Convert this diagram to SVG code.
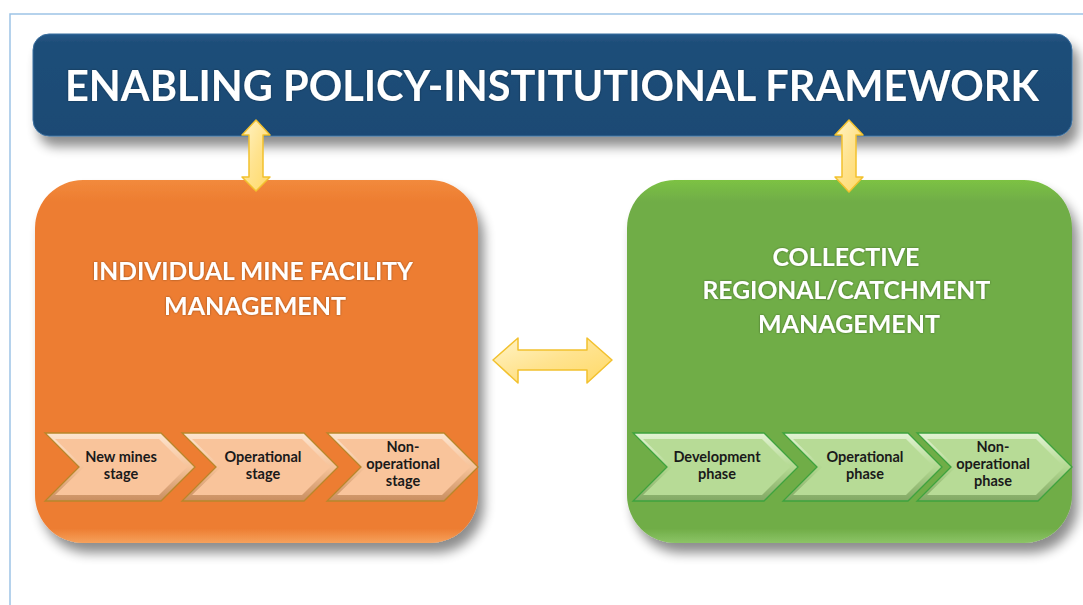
<svg xmlns="http://www.w3.org/2000/svg" width="1083" height="605" viewBox="0 0 1083 605">
  <defs>
    <style>
      .frame { stroke: #9dc3e6; stroke-width: 1.5; fill: none; }
      .banner-text { font-family: Lato, "Open Sans", sans-serif; font-weight: 700; font-size: 42px; fill: #ffffff; }
      .box-title { font-family: Lato, "Open Sans", sans-serif; font-weight: 700; font-size: 25px; fill: #ffffff; text-anchor: middle; }
      .step-text { font-family: Lato, "Open Sans", sans-serif; font-weight: 700; font-size: 14.5px; fill: #1a1a1a; text-anchor: middle; }
      .arrow { fill: url(#arrowFill); stroke: #f2c12e; stroke-width: 1.5; stroke-linejoin: round; }
      .o-outer { fill: url(#orangeBevel); stroke: #b8862b; stroke-width: 1.3; }
      .o-inner { fill: #f9c49b; }
      .g-outer { fill: url(#greenBevel); stroke: #3ea33e; stroke-width: 1.3; }
      .g-inner { fill: #b7db96; }
    </style>
    <filter id="shadow" x="-10%" y="-10%" width="125%" height="140%">
      <feGaussianBlur in="SourceAlpha" stdDeviation="6"/>
      <feOffset dx="6" dy="10" result="b"/>
      <feComponentTransfer><feFuncA type="linear" slope="0.45"/></feComponentTransfer>
      <feMerge><feMergeNode/><feMergeNode in="SourceGraphic"/></feMerge>
    </filter>
    <filter id="glow" x="-5%" y="-20%" width="110%" height="140%">
      <feGaussianBlur in="SourceAlpha" stdDeviation="1.2"/>
      <feComponentTransfer><feFuncA type="linear" slope="0.4"/></feComponentTransfer>
      <feMerge><feMergeNode/><feMergeNode in="SourceGraphic"/></feMerge>
    </filter>
    <linearGradient id="bannerFill" x1="0" y1="0" x2="0" y2="1">
      <stop offset="0" stop-color="#25598a"/>
      <stop offset="0.08" stop-color="#1f4e79"/>
      <stop offset="1" stop-color="#1d4a74"/>
    </linearGradient>
    <linearGradient id="orangeFill" x1="0" y1="0" x2="0" y2="1">
      <stop offset="0" stop-color="#f28a3c"/>
      <stop offset="0.06" stop-color="#ed7d31"/>
      <stop offset="0.96" stop-color="#ed7d31"/>
      <stop offset="1" stop-color="#f6a15c"/>
    </linearGradient>
    <linearGradient id="greenFill" x1="0" y1="0" x2="0" y2="1">
      <stop offset="0" stop-color="#7cc243"/>
      <stop offset="0.06" stop-color="#70ad47"/>
      <stop offset="0.96" stop-color="#70ad47"/>
      <stop offset="1" stop-color="#8cc466"/>
    </linearGradient>
    <linearGradient id="arrowFill" x1="0" y1="0" x2="1" y2="1">
      <stop offset="0" stop-color="#fff4c8"/>
      <stop offset="0.5" stop-color="#ffe38f"/>
      <stop offset="1" stop-color="#ffd966"/>
    </linearGradient>
    <linearGradient id="orangeBevel" x1="0" y1="0" x2="0" y2="1">
      <stop offset="0" stop-color="#fde5d0"/>
      <stop offset="0.5" stop-color="#f6c39a"/>
      <stop offset="1" stop-color="#c98e60"/>
    </linearGradient>
    <linearGradient id="greenBevel" x1="0" y1="0" x2="0" y2="1">
      <stop offset="0" stop-color="#e3f3d4"/>
      <stop offset="0.5" stop-color="#b4d992"/>
      <stop offset="1" stop-color="#82a864"/>
    </linearGradient>
  </defs>

  <rect width="1083" height="605" fill="#ffffff"/>
  <!-- page frame -->
  <path class="frame" d="M10,605 L10,14 L1083,14"/>

  <!-- top banner -->
  <g id="framework">
    <rect x="33" y="34" width="1039" height="102" rx="16" fill="url(#bannerFill)" stroke="#3a6f9f" stroke-width="1" filter="url(#shadow)"/>
    <text class="banner-text" x="552" y="101" text-anchor="middle" textLength="974" lengthAdjust="spacingAndGlyphs" filter="url(#glow)">ENABLING POLICY-INSTITUTIONAL FRAMEWORK</text>
  </g>

  <!-- individual mine facility box -->
  <g id="individual">
    <rect x="35" y="180" width="443" height="363" rx="48" fill="url(#orangeFill)" filter="url(#shadow)"/>
    <text class="box-title" filter="url(#glow)">
      <tspan x="255" y="280" textLength="320" lengthAdjust="spacingAndGlyphs">INDIVIDUAL MINE FACILITY</tspan>
      <tspan x="255" y="315">MANAGEMENT</tspan>
    </text>
    <g id="new-mines">
      <path class="o-outer" d="M45,433 L161,433 L195,467 L161,501 L45,501 L79,467 Z"/>
      <path class="o-inner" d="M55,439 L159,439 L187,467 L159,495 L55,495 L84,467 Z"/>
      <text class="step-text"><tspan x="121" y="462">New mines</tspan><tspan x="121" y="479">stage</tspan></text>
    </g>
    <g id="operational-stage">
      <path class="o-outer" d="M182,433 L304,433 L338,467 L304,501 L182,501 L216,467 Z"/>
      <path class="o-inner" d="M192,439 L302,439 L330,467 L302,495 L192,495 L221,467 Z"/>
      <text class="step-text"><tspan x="263" y="462">Operational</tspan><tspan x="263" y="479">stage</tspan></text>
    </g>
    <g id="non-operational-stage">
      <path class="o-outer" d="M327,433 L444,433 L478,467 L444,501 L327,501 L361,467 Z"/>
      <path class="o-inner" d="M337,439 L442,439 L470,467 L442,495 L337,495 L366,467 Z"/>
      <text class="step-text"><tspan x="403" y="452">Non-</tspan><tspan x="403" y="469">operational</tspan><tspan x="403" y="486">stage</tspan></text>
    </g>
  </g>

  <!-- collective regional box -->
  <g id="collective">
    <rect x="627" y="180" width="445" height="363" rx="48" fill="url(#greenFill)" filter="url(#shadow)"/>
    <text class="box-title" filter="url(#glow)">
      <tspan x="849" y="266">COLLECTIVE</tspan>
      <tspan x="849" y="299" textLength="287" lengthAdjust="spacingAndGlyphs">REGIONAL/CATCHMENT</tspan>
      <tspan x="849" y="333">MANAGEMENT</tspan>
    </text>
    <g id="development-phase">
      <path class="g-outer" d="M633,433 L764,433 L798,467 L764,501 L633,501 L667,467 Z"/>
      <path class="g-inner" d="M643,439 L762,439 L790,467 L762,495 L643,495 L672,467 Z"/>
      <text class="step-text"><tspan x="717" y="462">Development</tspan><tspan x="717" y="479">phase</tspan></text>
    </g>
    <g id="operational-phase">
      <path class="g-outer" d="M783,433 L908,433 L942,467 L908,501 L783,501 L817,467 Z"/>
      <path class="g-inner" d="M793,439 L906,439 L934,467 L906,495 L793,495 L822,467 Z"/>
      <text class="step-text"><tspan x="865" y="462">Operational</tspan><tspan x="865" y="479">phase</tspan></text>
    </g>
    <g id="non-operational-phase">
      <path class="g-outer" d="M917,433 L1038,433 L1072,467 L1038,501 L917,501 L951,467 Z"/>
      <path class="g-inner" d="M927,439 L1036,439 L1064,467 L1036,495 L927,495 L956,467 Z"/>
      <text class="step-text"><tspan x="993" y="452">Non-</tspan><tspan x="993" y="469">operational</tspan><tspan x="993" y="486">phase</tspan></text>
    </g>
  </g>

  <!-- two-way links -->
  <g id="connectors">
    <path class="arrow" d="M256,120 L270,135 L263,135 L263,177 L270,177 L256,191 L242,177 L249,177 L249,135 L242,135 Z"/>
    <path class="arrow" d="M849,120 L863,135 L856,135 L856,177 L863,177 L849,192 L835,177 L842,177 L842,135 L835,135 Z"/>
    <path class="arrow" d="M493,360 L518,338 L518,350 L587,350 L587,338 L612,360 L587,383 L587,370 L518,370 L518,383 Z"/>
  </g>
</svg>
